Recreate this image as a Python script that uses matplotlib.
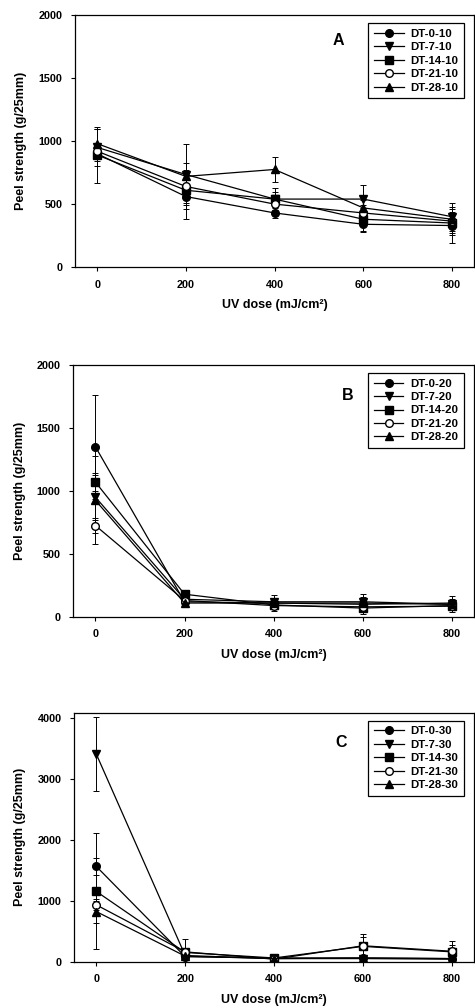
#!/usr/bin/env python3
"""
Peel strength vs UV dose for three DT series (A: -10, B: -20, C: -30).
"""
import matplotlib
matplotlib.use("Agg")
import matplotlib.pyplot as plt

plt.rc("font", family=["Liberation Sans", "DejaVu Sans"], weight="bold")
plt.rc("xtick", labelsize=7.8)
plt.rc("ytick", labelsize=7.8)
plt.rc("axes", labelsize=9, labelweight="bold", linewidth=0.9)

dose = [0, 200, 400, 600, 800]
days = ["0", "7", "14", "21", "28"]
markers = ["o", "v", "s", "o", "^"]
faces = ["black", "black", "black", "white", "black"]

# panel A (DT-x-10)
a_vals = [
    [900, 560, 430, 340, 330],
    [950, 735, 540, 540, 400],
    [890, 610, 540, 380, 350],
    [920, 640, 500, 430, 365],
    [980, 720, 775, 470, 380],
]
a_err = [
    [60, 180, 40, 60, 135],
    [150, 240, 60, 110, 110],
    [220, 150, 90, 90, 80],
    [60, 130, 60, 60, 110],
    [120, 110, 100, 60, 60],
]

# panel B (DT-x-20)
b_vals = [
    [1350, 120, 110, 100, 110],
    [950, 140, 120, 120, 100],
    [1070, 180, 95, 70, 90],
    [725, 130, 90, 80, 85],
    [925, 110, 110, 110, 100],
]
b_err = [
    [415, 20, 60, 80, 55],
    [180, 20, 30, 40, 30],
    [70, 20, 20, 20, 50],
    [60, 15, 20, 20, 20],
    [350, 20, 20, 20, 20],
]

# panel C (DT-x-30)
c_vals = [
    [1560, 80, 60, 60, 50],
    [3400, 100, 50, 50, 40],
    [1150, 150, 60, 250, 160],
    [930, 160, 40, 260, 170],
    [820, 90, 50, 60, 50],
]
c_err = [
    [140, 30, 10, 10, 10],
    [610, 30, 10, 10, 10],
    [950, 60, 10, 150, 120],
    [90, 210, 10, 190, 160],
    [180, 30, 10, 10, 10],
]

panels = [
    ("A", "10", a_vals, a_err, 2000, 500, [0.158, 0.735, 0.84, 0.250], (0.66, 0.90)),
    ("B", "20", b_vals, b_err, 2000, 500, [0.154, 0.388, 0.844, 0.250], (0.686, 0.88)),
    ("C", "30", c_vals, c_err, 4080, 1000, [0.156, 0.046, 0.842, 0.247], (0.667, 0.88)),
]

fig = plt.figure(figsize=(4.75, 10.08), dpi=100)

for letter, temp, vals, errs, ytop, ystep, rect, lpos in panels:
    ax = fig.add_axes(rect)
    handles = []
    for d, m, fc, v, e in zip(days, markers, faces, vals, errs):
        eb = ax.errorbar(
            dose, v, yerr=e, color="black", marker=m, markerfacecolor=fc,
            markeredgecolor="black", markersize=5.5, linewidth=0.9,
            elinewidth=0.7, capsize=2, capthick=0.7,
            label=f"DT-{d}-{temp}",
        )
        handles.append(eb.lines[0])
    ax.set_xlim(-50, 850)
    ax.set_ylim(0, ytop)
    ax.set_xticks(dose)
    ax.set_yticks(range(0, int(ytop) + 1, ystep))
    ax.tick_params(direction="out", length=3, width=0.8, pad=6)
    ax.set_xlabel("UV dose (mJ/cm²)", labelpad=7)
    ax.set_ylabel("Peel strength (g/25mm)", labelpad=8)
    ax.text(lpos[0], lpos[1], letter, transform=ax.transAxes,
            fontsize=11.5, fontweight="bold", ha="center", va="center")
    leg = ax.legend(
        handles, [f"DT-{d}-{temp}" for d in days],
        loc="upper right", bbox_to_anchor=(0.975, 0.968), borderaxespad=0,
        fontsize=8.2, frameon=True, fancybox=False, edgecolor="black",
        framealpha=1, handlelength=2.6, labelspacing=0.3, borderpad=0.5,
        handletextpad=0.6,
    )
    leg.get_frame().set_linewidth(0.9)

fig.savefig("out.png", dpi=100)
